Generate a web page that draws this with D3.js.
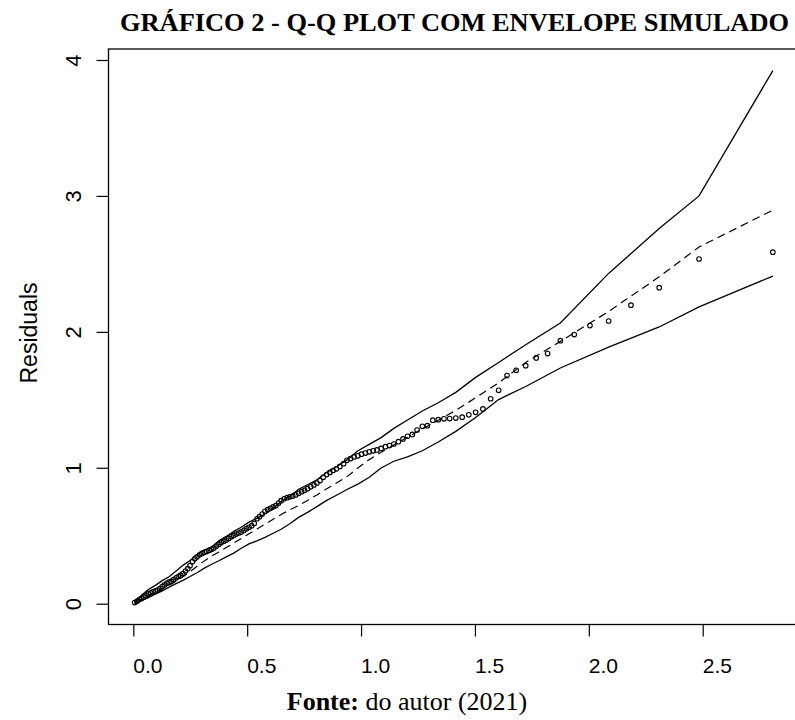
<!DOCTYPE html>
<html>
<head>
<meta charset="utf-8">
<script src="https://cdn.jsdelivr.net/npm/d3@7"></script>
<style>
  body { margin: 0; background: #fff; }
  svg { display: block; }
  .tick text { font-family: 'Liberation Sans', Arial, sans-serif; fill: #000; }
</style>
</head>
<body>
<div id="chart"></div>
<script>
// half-normal theoretical quantiles (x) and sorted residuals (y)
const quantiles = [0.006,0.016,0.026,0.036,0.046,0.056,0.066,0.076,0.086,0.097,
  0.107,0.117,0.127,0.137,0.147,0.157,0.167,0.177,0.188,0.198,
  0.208,0.218,0.229,0.239,0.249,0.260,0.270,0.280,0.291,0.301,
  0.312,0.322,0.333,0.344,0.354,0.365,0.376,0.386,0.397,0.408,
  0.419,0.430,0.441,0.452,0.463,0.474,0.486,0.497,0.508,0.520,
  0.531,0.543,0.554,0.566,0.578,0.590,0.602,0.614,0.626,0.638,
  0.649,0.662,0.675,0.687,0.700,0.713,0.726,0.739,0.752,0.765,
  0.779,0.793,0.806,0.820,0.834,0.849,0.863,0.877,0.892,0.907,
  0.923,0.938,0.954,0.969,0.986,1.002,1.019,1.036,1.053,1.070,
  1.088,1.107,1.125,1.144,1.164,1.184,1.204,1.225,1.246,1.269,
  1.291,1.315,1.339,1.364,1.389,1.416,1.444,1.473,1.503,1.535,
  1.569,1.604,1.641,1.681,1.723,1.769,1.819,1.875,1.936,2.005,
  2.087,2.185,2.309,2.484,2.808]

const residuals = [0.008,0.018,0.030,0.038,0.050,0.058,0.072,0.080,0.088,0.094,
  0.100,0.112,0.126,0.138,0.150,0.158,0.166,0.178,0.190,0.200,
  0.210,0.222,0.240,0.258,0.280,0.310,0.330,0.345,0.360,0.370,
  0.378,0.384,0.392,0.400,0.410,0.424,0.438,0.450,0.460,0.468,
  0.480,0.492,0.502,0.512,0.520,0.528,0.540,0.552,0.562,0.574,
  0.590,0.625,0.640,0.660,0.680,0.692,0.702,0.712,0.722,0.740,
  0.758,0.772,0.780,0.786,0.792,0.800,0.812,0.824,0.834,0.846,
  0.860,0.874,0.888,0.906,0.930,0.950,0.966,0.980,0.992,1.010,
  1.030,1.055,1.068,1.080,1.088,1.100,1.108,1.117,1.125,1.131,
  1.142,1.155,1.163,1.175,1.192,1.212,1.232,1.245,1.278,1.305,
  1.310,1.350,1.354,1.360,1.362,1.366,1.372,1.390,1.408,1.433,
  1.508,1.570,1.678,1.717,1.751,1.808,1.840,1.935,1.980,2.046,
  2.080,2.196,2.325,2.536,2.586]

// simulated envelope
const envX = [0.006,0.036,0.066,0.097,0.127,0.157,0.188,0.218,0.249,0.280,
  0.312,0.344,0.376,0.408,0.441,0.474,0.508,0.543,0.578,0.614,
  0.649,0.687,0.726,0.765,0.806,0.849,0.892,0.938,0.986,1.036,
  1.088,1.144,1.204,1.269,1.339,1.416,1.503,1.604,1.723,1.875,
  2.087,2.309,2.484,2.808]
const envUpper = [0.015,0.062,0.105,0.135,0.170,0.198,0.240,0.282,0.318,0.362,
  0.395,0.418,0.462,0.495,0.532,0.562,0.600,0.628,0.660,0.700,
  0.752,0.790,0.842,0.875,0.912,0.965,1.008,1.058,1.125,1.172,
  1.222,1.290,1.352,1.418,1.478,1.555,1.665,1.775,1.905,2.065,
  2.430,2.760,3.000,3.922]
const envMedian = [0.004,0.032,0.058,0.085,0.110,0.135,0.165,0.198,0.235,0.275,
  0.315,0.350,0.381,0.413,0.446,0.480,0.515,0.550,0.585,0.622,
  0.656,0.690,0.722,0.760,0.800,0.845,0.888,0.935,0.998,1.060,
  1.115,1.168,1.225,1.285,1.350,1.422,1.515,1.625,1.775,1.930,
  2.150,2.405,2.625,2.895]
const envLower = [0.002,0.022,0.045,0.070,0.094,0.122,0.148,0.172,0.200,0.228,
  0.262,0.290,0.316,0.345,0.372,0.408,0.440,0.462,0.488,0.518,
  0.548,0.588,0.635,0.672,0.714,0.760,0.798,0.840,0.880,0.930,
  0.998,1.048,1.080,1.125,1.190,1.268,1.370,1.502,1.598,1.734,
  1.888,2.036,2.184,2.410]

const xTicks = [0, 0.5, 1, 1.5, 2, 2.5]
const yTicks = [0, 1, 2, 3, 4]

const width = 795, height = 720
const box = { left: 108.5, top: 49, right: 798, bottom: 624.5 }

const svg = d3.select('#chart').append('svg')
  .attr('width', width)
  .attr('height', height)
svg.append('rect').attr('width', width).attr('height', height).attr('fill', '#fff')

const x = d3.scaleLinear().domain([0, 2.5]).range([133.3, 702.7])
const y = d3.scaleLinear().domain([0, 4]).range([603.7, 60])

// title
svg.append('text')
  .attr('x', 120).attr('y', 31)
  .attr('textLength', 669).attr('lengthAdjust', 'spacingAndGlyphs')
  .style('font-family', "'Liberation Serif', 'Times New Roman', serif")
  .style('font-weight', 'bold')
  .style('font-size', '26px')
  .text('GRÁFICO 2 - Q-Q PLOT COM ENVELOPE SIMULADO')

// plot box
svg.append('rect')
  .attr('x', box.left).attr('y', box.top)
  .attr('width', box.right - box.left).attr('height', box.bottom - box.top)
  .attr('fill', 'none').attr('stroke', '#000').attr('stroke-width', 1.3)

// axes
const yAxis = svg.append('g')
  .attr('transform', 'translate(' + box.left + ',0)')
  .call(d3.axisLeft(y).tickValues(yTicks).tickSize(12).tickFormat(d3.format('d')))
yAxis.select('.domain').remove()
yAxis.selectAll('.tick line').attr('stroke', '#000').attr('stroke-width', 1.2)
yAxis.selectAll('.tick text')
  .attr('x', null).attr('dy', null)
  .attr('transform', 'translate(-27.5,0) rotate(-90)')
  .style('text-anchor', 'middle')
  .style('font-size', '22px')

const xAxis = svg.append('g')
  .attr('transform', 'translate(0,' + box.bottom + ')')
  .call(d3.axisBottom(x).tickValues(xTicks).tickSize(12).tickFormat(d3.format('.1f')))
xAxis.select('.domain').remove()
xAxis.selectAll('.tick line').attr('stroke', '#000').attr('stroke-width', 1.2)
xAxis.selectAll('.tick text')
  .attr('y', 48.5).attr('dy', null).attr('x', -0.5)
  .style('text-anchor', 'start')
  .style('font-size', '21px')

// axis label
svg.append('text')
  .attr('transform', 'translate(37,333) rotate(-90)')
  .style('text-anchor', 'middle')
  .style('font-family', "'Liberation Sans', Arial, sans-serif")
  .style('font-size', '23px')
  .text('Residuals')

// envelope lines
const clip = svg.append('clipPath').attr('id', 'plotclip')
  .append('rect')
  .attr('x', box.left).attr('y', box.top)
  .attr('width', box.right - box.left).attr('height', box.bottom - box.top)

const plot = svg.append('g').attr('clip-path', 'url(#plotclip)')

const line = d3.line()
  .x(function(d){ return x(d[0]) })
  .y(function(d){ return y(d[1]) })

function pairs(vals){ return envX.map(function(v, i){ return [v, vals[i]] }) }

plot.append('path').datum(pairs(envUpper))
  .attr('d', line).attr('fill', 'none').attr('stroke', '#000').attr('stroke-width', 1.3)
plot.append('path').datum(pairs(envLower))
  .attr('d', line).attr('fill', 'none').attr('stroke', '#000').attr('stroke-width', 1.3)
plot.append('path').datum(pairs(envMedian))
  .attr('d', line).attr('fill', 'none').attr('stroke', '#000').attr('stroke-width', 1.2)
  .attr('stroke-dasharray', '8,5')

// points
plot.selectAll('circle.pt')
  .data(quantiles.map(function(q, i){ return [q, residuals[i]] }))
  .enter().append('circle')
  .attr('class', 'pt')
  .attr('cx', function(d){ return x(d[0]) })
  .attr('cy', function(d){ return y(d[1]) })
  .attr('r', 2.3)
  .attr('fill', 'none')
  .attr('stroke', '#000')
  .attr('stroke-width', 1.1)

// caption
const cap = svg.append('text')
  .attr('x', 407).attr('y', 710)
  .style('text-anchor', 'middle')
  .style('font-family', "'Liberation Serif', 'Times New Roman', serif")
  .style('font-size', '26px')
cap.append('tspan').style('font-weight', 'bold').text('Fonte:')
cap.append('tspan').text(' do autor (2021)')
</script>
</body>
</html>
